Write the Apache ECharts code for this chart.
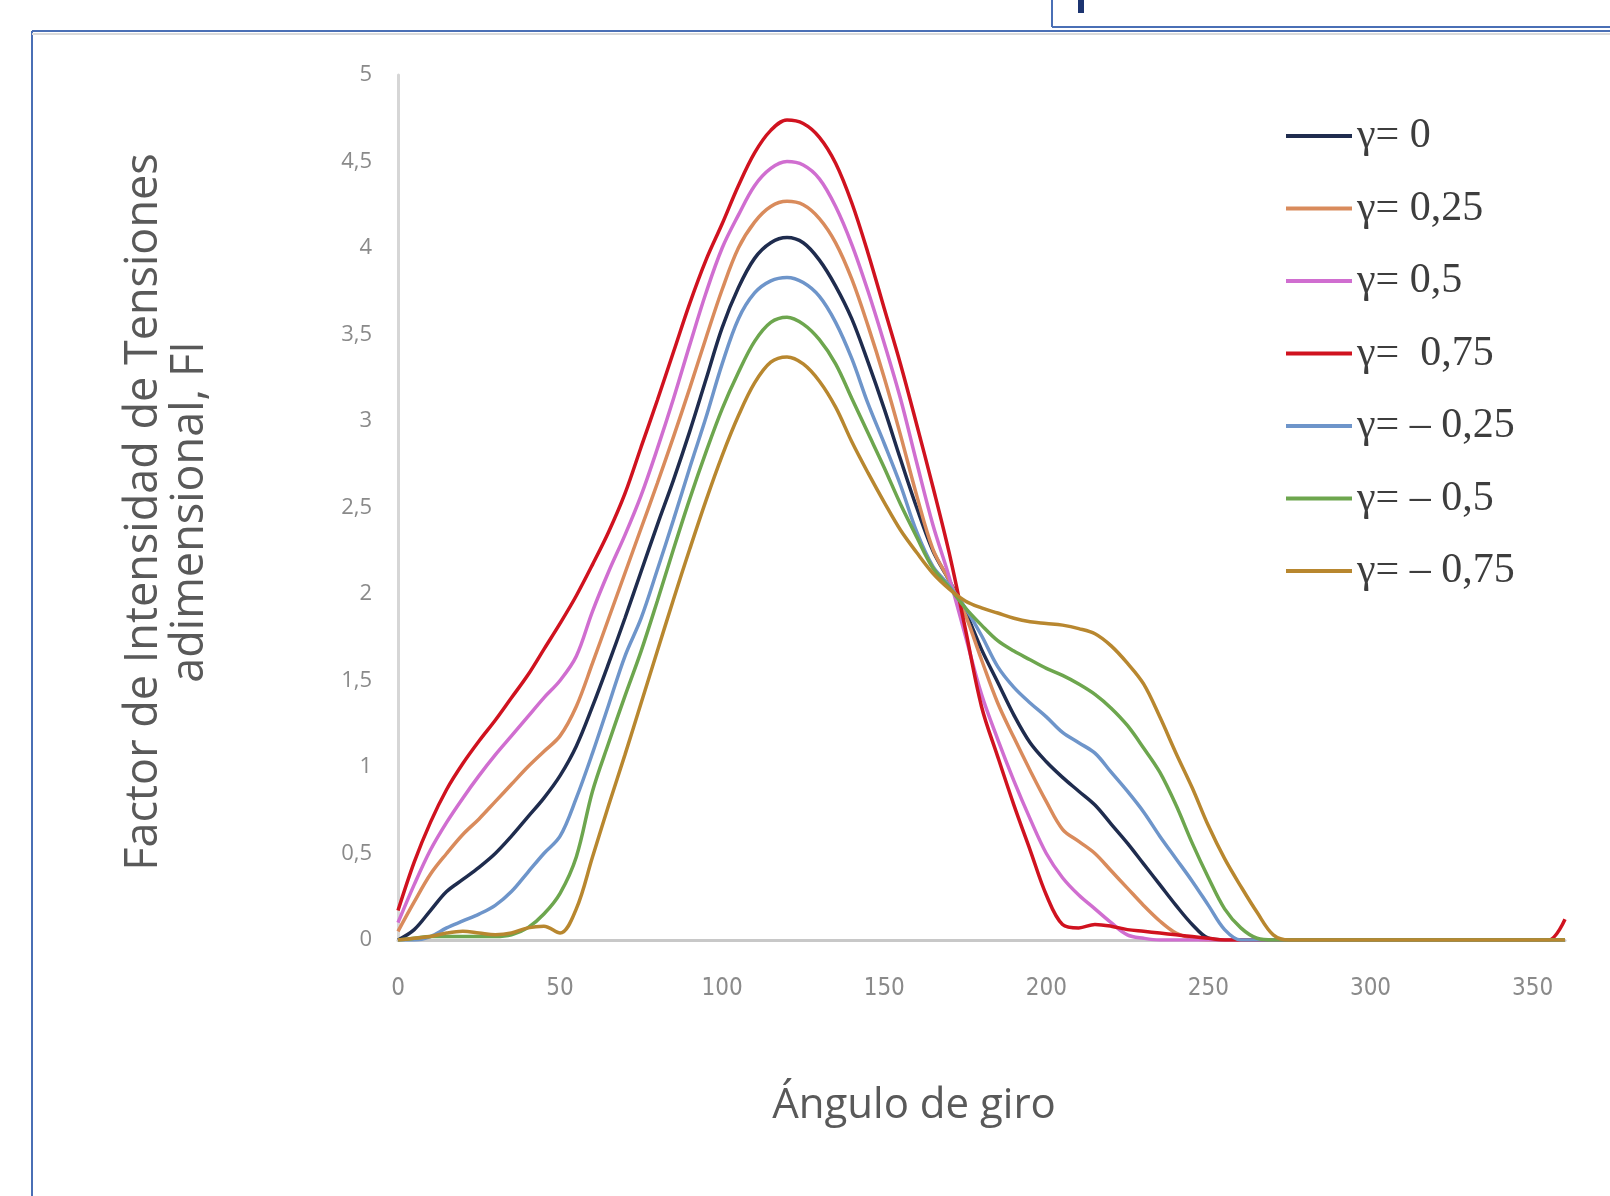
<!DOCTYPE html>
<html>
<head>
<meta charset="utf-8">
<script src="https://cdn.jsdelivr.net/npm/echarts@6/dist/echarts.min.js"></script>
<style>
    html, body { margin: 0; padding: 0; background: #fff; }
    #fiChart { width: 1610px; height: 1196px; }
</style>
</head>
<body>
<div id="fiChart"></div>
<script>
// angulo de giro (grados)
var angles = [0, 5, 10, 15, 20, 25, 30, 35, 40, 45, 50, 55, 60, 65, 70, 75, 80, 85, 90, 95,
    100, 105, 110, 115, 120, 125, 130, 135, 140, 145, 150, 155, 160, 165, 170, 175, 180, 185, 190, 195,
    200, 205, 210, 215, 220, 225, 230, 235, 240, 245, 250, 255, 260, 265, 270, 275, 280,
    290, 300, 310, 320, 330, 340, 350, 355, 360];

var names = ['γ= 0', 'γ= 0,25', 'γ= 0,5', 'γ=  0,75', 'γ= – 0,25', 'γ= – 0,5', 'γ= – 0,75'];
var colors = ['#1f2c4e', '#d98b5c', '#d06ed0', '#d0121f', '#6e95ca', '#6da64e', '#b8872f'];

var g0 = [0.00, 0.06, 0.17, 0.28, 0.35, 0.42, 0.50, 0.60, 0.71, 0.82, 0.95, 1.12, 1.35, 1.60, 1.86, 2.13, 2.40, 2.66, 2.94, 3.24,
    3.54, 3.77, 3.94, 4.03, 4.06, 4.03, 3.93, 3.78, 3.59, 3.34, 3.07, 2.78, 2.50, 2.25, 2.08, 1.90, 1.68, 1.49, 1.30, 1.14,
    1.03, 0.94, 0.86, 0.78, 0.67, 0.56, 0.44, 0.32, 0.20, 0.09, 0.01, 0, 0, 0, 0, 0, 0,
    0, 0, 0, 0, 0, 0, 0, 0, 0];
var g025 = [0.05, 0.22, 0.38, 0.50, 0.61, 0.70, 0.80, 0.90, 1.00, 1.09, 1.18, 1.35, 1.60, 1.86, 2.12, 2.38, 2.64, 2.91, 3.19, 3.48,
    3.76, 4.00, 4.15, 4.24, 4.27, 4.25, 4.17, 4.03, 3.82, 3.55, 3.25, 2.92, 2.57, 2.26, 2.08, 1.88, 1.62, 1.37, 1.17, 0.98,
    0.80, 0.64, 0.57, 0.50, 0.40, 0.30, 0.20, 0.11, 0.04, 0.01, 0, 0, 0, 0, 0, 0, 0,
    0, 0, 0, 0, 0, 0, 0, 0, 0];
var g05 = [0.10, 0.32, 0.52, 0.68, 0.82, 0.95, 1.07, 1.18, 1.29, 1.40, 1.50, 1.64, 1.90, 2.13, 2.34, 2.57, 2.84, 3.13, 3.44, 3.74,
    4.00, 4.19, 4.36, 4.46, 4.50, 4.48, 4.40, 4.24, 4.02, 3.75, 3.45, 3.13, 2.76, 2.40, 2.10, 1.76, 1.42, 1.16, 0.92, 0.70,
    0.50, 0.36, 0.26, 0.18, 0.10, 0.03, 0.01, 0, 0, 0, 0, 0, 0, 0, 0, 0, 0,
    0, 0, 0, 0, 0, 0, 0, 0, 0];
var g075 = [0.17, 0.45, 0.68, 0.87, 1.02, 1.15, 1.27, 1.40, 1.53, 1.68, 1.83, 1.99, 2.17, 2.36, 2.58, 2.85, 3.12, 3.40, 3.68, 3.93,
    4.14, 4.36, 4.55, 4.68, 4.74, 4.72, 4.64, 4.49, 4.26, 3.97, 3.65, 3.33, 2.98, 2.62, 2.24, 1.80, 1.35, 1.06, 0.78, 0.52,
    0.26, 0.09, 0.07, 0.09, 0.08, 0.06, 0.05, 0.04, 0.03, 0.02, 0.01, 0, 0, 0, 0, 0, 0,
    0, 0, 0, 0, 0, 0, 0, 0, 0.12];
var gm025 = [0, 0, 0.02, 0.07, 0.11, 0.15, 0.20, 0.28, 0.39, 0.50, 0.60, 0.82, 1.08, 1.36, 1.64, 1.86, 2.14, 2.43, 2.73, 3.02,
    3.33, 3.59, 3.74, 3.81, 3.83, 3.80, 3.72, 3.57, 3.36, 3.10, 2.87, 2.63, 2.36, 2.16, 2.05, 1.92, 1.76, 1.58, 1.46, 1.37,
    1.29, 1.20, 1.14, 1.08, 0.97, 0.86, 0.74, 0.60, 0.47, 0.34, 0.20, 0.06, 0, 0, 0, 0, 0,
    0, 0, 0, 0, 0, 0, 0, 0, 0];
var gm05 = [0, 0.01, 0.02, 0.02, 0.02, 0.02, 0.02, 0.03, 0.07, 0.15, 0.27, 0.48, 0.86, 1.14, 1.41, 1.67, 1.96, 2.26, 2.55, 2.82,
    3.07, 3.28, 3.46, 3.57, 3.60, 3.56, 3.47, 3.33, 3.13, 2.93, 2.73, 2.52, 2.33, 2.15, 2.04, 1.92, 1.82, 1.73, 1.67, 1.62,
    1.57, 1.53, 1.48, 1.42, 1.34, 1.24, 1.11, 0.97, 0.78, 0.56, 0.36, 0.18, 0.07, 0.01, 0, 0, 0,
    0, 0, 0, 0, 0, 0, 0, 0, 0];
var gm075 = [0, 0.01, 0.02, 0.04, 0.05, 0.04, 0.03, 0.04, 0.07, 0.08, 0.04, 0.18, 0.48, 0.78, 1.07, 1.37, 1.67, 1.97, 2.26, 2.54,
    2.80, 3.03, 3.22, 3.34, 3.37, 3.33, 3.23, 3.08, 2.88, 2.70, 2.53, 2.37, 2.24, 2.12, 2.03, 1.96, 1.92, 1.89, 1.86, 1.84,
    1.83, 1.82, 1.80, 1.77, 1.70, 1.60, 1.48, 1.29, 1.08, 0.88, 0.66, 0.47, 0.31, 0.16, 0.03, 0, 0,
    0, 0, 0, 0, 0, 0, 0, 0, 0];

var xTicks = [0, 50, 100, 150, 200, 250, 300, 350];

function drawFI() {
    var values = [g0, g025, g05, g075, gm025, gm05, gm075];
    var series = [];
    for (var i = 0; i < values.length; i++) {
        series.push({
            name: names[i],
            type: 'line',
            smooth: 0.35,
            showSymbol: false,
            symbol: 'none',
            lineStyle: { width: 3.5, color: colors[i] },
            itemStyle: { color: colors[i] },
            data: angles.map(function (a, k) { return [a, values[i][k]]; })
        });
    }

    var option = {
        backgroundColor: '#fff',
        animation: false,
        legend: {
            orient: 'vertical',
            left: 1281,
            top: 110,
            icon: 'rect',
            itemWidth: 66,
            itemHeight: 4,
            itemGap: 30.5,
            data: names,
            textStyle: {
                fontFamily: 'Liberation Serif',
                fontSize: 42,
                lineHeight: 42,
                color: '#3d3d3d'
            }
        },
        grid: { left: 398, right: 45, top: 75, bottom: 256 },
        xAxis: {
            type: 'value',
            min: 0,
            max: 360,
            interval: 50,
            axisLine: { lineStyle: { color: '#c8c8c8', width: 3 } },
            axisTick: { show: false },
            splitLine: { show: false },
            axisLabel: {
                margin: 37,
                fontFamily: 'Liberation Sans Narrow, DejaVu Sans Condensed, sans-serif',
                fontSize: 24,
                color: '#8a8a8a',
                showMaxLabel: false,
                formatter: function (v) { return xTicks.indexOf(v) >= 0 ? String(v) : ''; }
            }
        },
        yAxis: {
            type: 'value',
            min: 0,
            max: 5,
            interval: 0.5,
            axisLine: { show: true, lineStyle: { color: '#d6d6d6', width: 3 } },
            axisTick: { show: false },
            splitLine: { show: false },
            axisLabel: {
                margin: 26,
                fontFamily: 'Open Sans',
                fontSize: 22,
                color: '#8a8a8a',
                formatter: function (v) { return String(v).replace('.', ','); }
            }
        },
        graphic: [
            // titulos de los ejes
            {
                type: 'text', x: 914, y: 1106,
                style: { text: 'Ángulo de giro', font: '42px "Open Sans"', fill: '#595959', align: 'center', verticalAlign: 'middle' }
            },
            {
                type: 'text', x: 167, y: 512, rotation: Math.PI / 2,
                style: {
                    text: 'Factor de Intensidad de Tensiones\nadimensional, FI',
                    font: '45px "Open Sans"', lineHeight: 46, fill: '#595959',
                    align: 'center', verticalAlign: 'middle'
                }
            },
            // marco azul de la figura
            { type: 'line', shape: { x1: 32, y1: 31, x2: 32, y2: 1196 }, style: { stroke: '#4a6fb5', lineWidth: 2 } },
            { type: 'line', shape: { x1: 32, y1: 31, x2: 1610, y2: 31 }, style: { stroke: '#4a6fb5', lineWidth: 2 } },
            { type: 'line', shape: { x1: 32, y1: 34, x2: 1610, y2: 34 }, style: { stroke: '#dadada', lineWidth: 2 } },
            { type: 'line', shape: { x1: 1052, y1: 0, x2: 1052, y2: 27 }, style: { stroke: '#4a6fb5', lineWidth: 2 } },
            { type: 'line', shape: { x1: 1052, y1: 27, x2: 1610, y2: 27 }, style: { stroke: '#4a6fb5', lineWidth: 2 } },
            { type: 'rect', shape: { x: 1078, y: 0, width: 6, height: 13 }, style: { fill: '#1c3470' } }
        ],
        series: series
    };
    var myChart = echarts.init(document.getElementById('fiChart'));
    myChart.setOption(option);
}
drawFI();
</script>
</body>
</html>
